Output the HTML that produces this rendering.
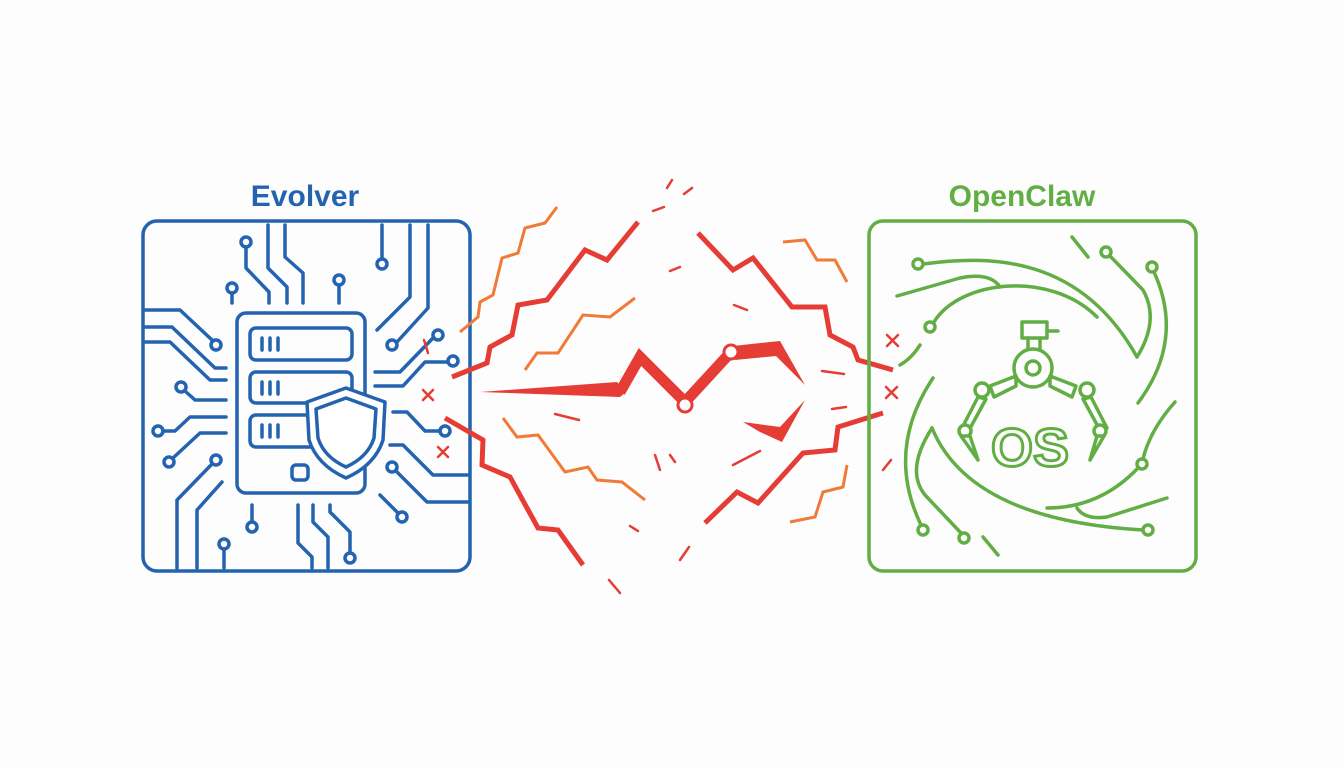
<!DOCTYPE html>
<html><head><meta charset="utf-8"><style>
html,body{margin:0;padding:0;background:#fdfdfd;}
svg{display:block}
</style></head><body>
<svg width="1344" height="768" viewBox="0 0 1344 768" xmlns="http://www.w3.org/2000/svg">
<rect width="1344" height="768" fill="#fdfdfd"/>
<text x="305" y="206" text-anchor="middle" font-family="Liberation Sans, sans-serif" font-weight="bold" font-size="30" fill="#2363b0">Evolver</text>
<text x="1022" y="206" text-anchor="middle" font-family="Liberation Sans, sans-serif" font-weight="bold" font-size="30" fill="#62ae45">OpenClaw</text>

<!-- LEFT BOX -->
<g fill="none" stroke="#2363b0" stroke-width="3.5" stroke-linecap="round" stroke-linejoin="round">
<rect x="143" y="221" width="327" height="350" rx="14"/>
<rect x="237" y="313" width="128" height="180" rx="9"/>
<rect x="250" y="328" width="102" height="32" rx="6"/>
<rect x="250" y="372" width="102" height="31" rx="6"/>
<rect x="250" y="415" width="102" height="32" rx="6"/>
<rect x="292" y="465" width="16" height="15" rx="4"/>
<path d="M262 338v12M270 338v12M278 338v12M262 382v12M270 382v12M278 382v12M262 425v12M270 425v12M278 425v12"/>
<path d="M346 388 L385 402 L383 440 Q375 465 346 478 Q317 465 309 440 L307 402 Z" fill="#fff"/>
<path d="M346 398 L376 409 L374 438 Q368 457 346 467 Q324 457 318 438 L316 409 Z"/>
<circle cx="246" cy="242" r="5"/><path d="M246 247v21l23 24v11"/>
<path d="M268 225v43l19 19v16"/>
<path d="M285 225v32l18 16v30"/>
<circle cx="232" cy="288" r="5"/><path d="M232 293v10"/>
<circle cx="339" cy="280" r="5"/><path d="M339 285v18"/>
<circle cx="382" cy="264" r="5"/><path d="M382 259v-34"/>
<path d="M410 225v72l-33 33"/>
<path d="M428 225v83l-31 34"/><circle cx="392" cy="345" r="5"/>
<path d="M145 310h35l32 30"/><circle cx="216" cy="345" r="5"/>
<path d="M145 327h27l43 41h11"/>
<path d="M145 342h25l40 38h16"/>
<circle cx="181" cy="387" r="5"/><path d="M185 391l10 9h31"/>
<circle cx="158" cy="431" r="5"/><path d="M163 431h12l15-14h36"/>
<circle cx="169" cy="462" r="5"/><path d="M173 458l27-25h26"/>
<circle cx="216" cy="460" r="5"/><path d="M212 464l-35 36v68"/>
<path d="M222 482l-25 28v58"/>
<circle cx="224" cy="544" r="5"/><path d="M224 549v19"/>
<circle cx="252" cy="527" r="5"/><path d="M252 522v-17"/>
<path d="M298 505v38l14 14v11"/>
<path d="M313 505v17l15 15v31"/>
<path d="M330 505v7l20 20v21"/><circle cx="350" cy="558" r="5"/>
<path d="M375 372h25l33-34"/><circle cx="438" cy="335" r="5"/>
<path d="M375 386h28l22-24h23"/><circle cx="453" cy="361" r="5"/>
<path d="M393 412h14l18 19h15"/><circle cx="445" cy="431" r="5"/>
<path d="M390 445h13l30 30h35"/>
<circle cx="392" cy="467" r="5"/><path d="M396 471l31 31h41"/>
<path d="M380 495l17 17"/><circle cx="402" cy="517" r="5"/>
</g>
<g stroke="#e53d35" stroke-width="2.5" stroke-linecap="round" fill="none">
<path d="M423 390l10 10M433 390l-10 10M438 447l10 10M448 447l-10 10M424 340l4 13"/>
<path d="M887 335l11 11M898 335l-11 11M886 387l11 11M897 387l-11 11M883 470l8-10"/>
</g>

<!-- CENTER -->
<g fill="#e53d35">
<polygon points="480,392 617,382 626,392 620,397"/>
<polygon points="733,346 780,341 805,385 776,356 735,360"/>
<polygon points="743,422 780,427 805,400 782,442 760,432"/>
</g>
<polyline points="620,392 640,357 685,402 731,352" fill="none" stroke="#e53d35" stroke-width="11" stroke-linejoin="miter"/>
<g fill="#fff" stroke="#e53d35" stroke-width="3"><circle cx="685" cy="405" r="7"/><circle cx="731" cy="352" r="7"/></g>
<g fill="none" stroke="#e53d35" stroke-width="5" stroke-linejoin="miter">
<polyline points="638,222 607,260 585,250 547,300 518,305 512,335 490,347 487,363 452,377"/>
<polyline points="445,418 483,440 482,465 510,477 538,528 558,530 583,565"/>
<polyline points="698,233 733,270 753,258 792,307 825,307 830,335 853,347 858,360 893,370"/>
<polyline points="883,413 838,427 835,450 803,453 758,503 737,492 705,523"/>
</g>
<g fill="none" stroke="#f07a36" stroke-width="3">
<polyline points="557,207 545,223 525,228 518,253 502,258 493,295 480,302 478,317 460,332"/>
<polyline points="635,298 610,317 583,315 558,353 537,353 525,370"/>
<polyline points="503,418 517,437 538,435 565,472 588,467 597,480 622,482 645,500"/>
<polyline points="783,242 805,240 817,260 835,260 847,282"/>
<polyline points="847,465 843,487 823,492 815,517 790,522"/>
</g>
<g stroke="#e53d35" stroke-width="2.5" stroke-linecap="round">
<path d="M667 188l5-8M684 194l8-6M653 211l11-4M670 271l10-4M734 305l13 5M555 414l24 6M822 371l22 3M832 409l14-2M655 455l5 15M670 455l5 7M733 465l27-14M630 526l8 5M680 560l9-13M609 580l11 13"/>
</g>

<!-- RIGHT BOX -->
<g fill="none" stroke="#62ae45" stroke-width="3.5" stroke-linecap="round" stroke-linejoin="round">
<rect x="869" y="221" width="327" height="350" rx="14"/>
<circle cx="918" cy="264" r="5"/>
<path d="M923 264 C990 255 1080 255 1137 357"/>
<path d="M897 296 L960 278 Q990 272 1000 287"/>
<circle cx="930" cy="327" r="5"/>
<path d="M934 322 C960 280 1050 270 1097 317"/>
<circle cx="1106" cy="252" r="5"/>
<path d="M1110 256 L1143 290 Q1160 320 1137 357"/>
<circle cx="1152" cy="267" r="5"/>
<path d="M1154 272 Q1185 340 1138 403"/>
<path d="M1072 237 L1088 257"/>
<path d="M920 345 Q912 358 900 365"/>
<path d="M933 378 Q885 450 921 525"/><circle cx="923" cy="530" r="5"/>
<path d="M932 428 Q905 470 925 495 L961 533"/><circle cx="964" cy="538" r="5"/>
<path d="M932 428 Q970 520 1143 530"/><circle cx="1148" cy="530" r="5"/>
<path d="M983 537 L998 555"/>
<path d="M1175 402 Q1150 430 1143 459"/><circle cx="1142" cy="464" r="5"/>
<path d="M1138 468 Q1100 508 1047 508"/>
<path d="M1167 498 L1107 517 Q1085 520 1077 508"/>
<rect x="1022" y="322" width="25" height="16"/><path d="M1047 331h11M1028 338v10M1040 338v10"/>
<circle cx="1033" cy="368" r="19" fill="#fff"/><circle cx="1033" cy="368" r="7"/>
<path d="M1016 376 L990 386 L994 397 L1016 386 Z M1050 376 L1076 386 L1072 397 L1050 386 Z" fill="#fff"/>
<circle cx="982" cy="390" r="7" fill="#fff"/><circle cx="1087" cy="390" r="7" fill="#fff"/>
<path d="M978 397 L962 428 L968 432 L986 399 Z M1091 397 L1107 428 L1101 432 L1083 399 Z" fill="#fff"/>
<circle cx="965" cy="431" r="6" fill="#fff"/><circle cx="1100" cy="431" r="6" fill="#fff"/>
<path d="M961 436 L978 460 L970 436 Z M1104 436 L1090 460 L1097 436 Z" fill="#fff"/>
</g>
<text x="1030" y="466" text-anchor="middle" font-family="Liberation Sans, sans-serif" font-weight="bold" font-size="54" fill="#fff" stroke="#62ae45" stroke-width="3">OS</text>
</svg>
</body></html>
